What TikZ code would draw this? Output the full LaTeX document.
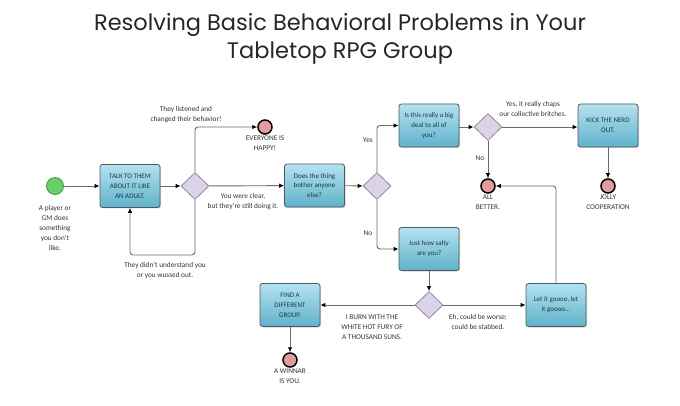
\documentclass[tikz,border=0pt]{standalone}
\usepackage{fontspec}
\setmainfont{Carlito}
\newfontfamily\titlefont{Poppins}
\usetikzlibrary{shapes.geometric,arrows.meta,shadows}
\definecolor{boxtop}{HTML}{B4E2EF}
\definecolor{boxbot}{HTML}{5FB2CB}
\definecolor{boxline}{HTML}{4F5A60}
\definecolor{boxtext}{HTML}{1E3550}
\definecolor{dfill}{HTML}{DCD3E8}
\definecolor{dline}{HTML}{8E8AA0}
\definecolor{endfill}{HTML}{E39C9A}
\definecolor{startfill}{HTML}{6ACF68}
\definecolor{startline}{HTML}{3E9A3E}
\definecolor{conn}{HTML}{6A6A6A}
\definecolor{lbl}{HTML}{333333}
\tikzset{
  taskbox/.style={draw=boxline, line width=0.8pt, rounded corners=2.5pt,
    top color=boxtop, bottom color=boxbot, minimum width=60pt, minimum height=43pt,
    align=center, inner sep=1pt, font=\fontsize{7}{9.8}\selectfont,
    text=boxtext, drop shadow={shadow xshift=1pt, shadow yshift=-1pt, opacity=0.35}},
  gate/.style={diamond, draw=dline, line width=0.8pt, fill=dfill,
    minimum width=28pt, minimum height=27pt, inner sep=0pt},
  endev/.style={circle, draw=black, line width=1.5pt, fill=endfill, minimum size=14pt, inner sep=0pt},
  startev/.style={circle, draw=startline, line width=0.8pt, fill=startfill, minimum size=17pt, inner sep=0pt},
  lab/.style={align=center, font=\fontsize{7.3}{10}\selectfont, text=lbl, inner sep=0pt},
  arr/.style={draw=conn, line width=0.9pt, rounded corners=3pt, -{Latex[length=5pt,width=4.5pt,color=black]}},
}
\begin{document}
\begin{tikzpicture}[x=1pt,y=-1pt]
\useasboundingbox (0,0) rectangle (680,406);
\node[font=\titlefont\fontsize{22.5}{28}\selectfont, align=center, text=black!85] (title) at (340,39)
  {Resolving Basic Behavioral Problems in Your\\Tabletop RPG Group};

\node[startev] (start) at (55,186) {};
\node[lab, anchor=north] (startl) at (55,205) {A player or\\GM does\\something\\you don't\\like.};

\node[taskbox] (b1) at (130,186) {TALK TO THEM\\ABOUT IT LIKE\\AN ADULT.};
\node[gate] (d1) at (195,186) {};
\node[endev] (happy) at (265,127) {};
\node[lab, anchor=north] (happyl) at (265,136) {EVERYONE IS\\HAPPY!};
\node[taskbox] (b2) at (314.5,185.5) {Does the thing\\bother anyone\\else?};
\node[gate] (d2) at (377,186) {};
\node[taskbox] (b3) at (429,125.5) {Is this really a big\\deal to all of\\you?};
\node[taskbox] (b4) at (429,249) {Just how salty\\are you?};
\node[gate] (d3) at (488,127) {};
\node[taskbox] (b5) at (608,125.5) {KICK THE NERD\\OUT.};
\node[endev] (better) at (488,186) {};
\node[lab, anchor=north] (betterl) at (488,195) {ALL\\BETTER.};
\node[endev] (jolly) at (608,186) {};
\node[lab, anchor=north] (jollyl) at (608,195) {JOLLY\\COOPERATION};
\node[gate] (d4) at (429,305) {};
\node[taskbox] (b6) at (290,305) {FIND A\\DIFFERENT\\GROUP.};
\node[taskbox] (b7) at (556,305) {Let it goooo, let\\it goooo...};
\node[endev] (winnar) at (290,360) {};
\node[lab, anchor=north] (winnarl) at (290,369) {A WINNAR\\IS YOU.};

\coordinate (loop) at (130,255);

% labels
\node[lab] (l1) at (186,115) {They listened and\\changed their behavior!};
\node[lab] (l2) at (243,202) {You were clear,\\but they're still doing it.};
\node[lab] (l3) at (165,271) {They didn't understand you\\or you wussed out.};
\node[lab] (l4) at (368,140) {Yes};
\node[lab] (l5) at (368,233) {No};
\node[lab] (l6) at (533,109) {Yes, it really chaps\\our collective britches.};
\node[lab] (l7) at (480,158) {No};
\node[lab] (l8) at (372,327) {I BURN WITH THE\\WHITE HOT FURY OF\\A THOUSAND SUNS.};
\node[lab] (l9) at (478,322) {Eh, could be worse;\\could be stabbed.};

% connectors
\draw[arr] (start) -- (b1);
\draw[arr] (b1) -- (d1);
\draw[arr] (d1.north) |- (happy.west);
\draw[arr] (d1) -- (b2);
\draw[arr] (d1.south) |- (loop) -- (b1.south);
\draw[arr] (b2) -- (d2);
\draw[arr] (d2.north) |- (b3.west);
\draw[arr] (d2.south) |- (b4.west);
\draw[arr] (b3.east |- d3) -- (d3);
\draw[arr] (d3) -- (b5.west |- d3);
\draw[arr] (d3.south) -- (better.north);
\draw[arr] (b5.south -| jolly) -- (jolly.north);
\draw[arr] (b4) -- (d4);
\draw[arr] (d4) -- (b6);
\draw[arr] (d4) -- (b7);
\draw[arr] (b7.north) |- (better.east);
\draw[arr] (b6) -- (winnar);
\end{tikzpicture}
\end{document}
